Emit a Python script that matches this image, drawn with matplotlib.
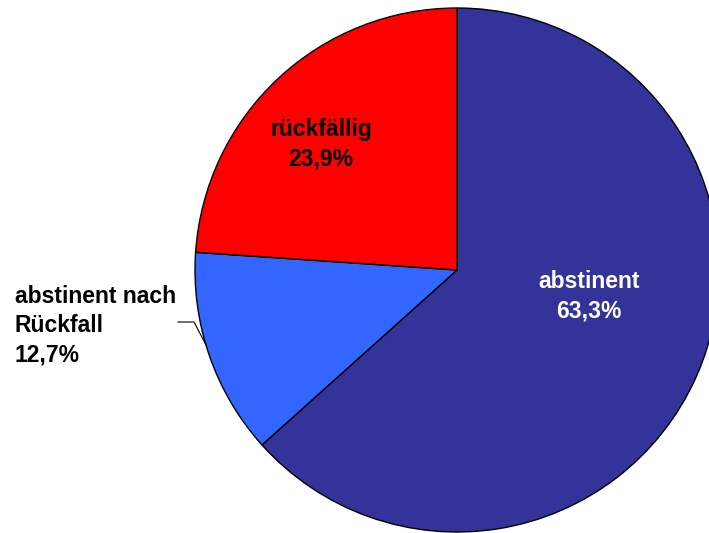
import matplotlib.pyplot as plt

labels = ['abstinent', 'abstinent nach\nRückfall', 'rückfällig']
shares = [63.3, 12.7, 23.9]
colors = ['#333399', '#3366FF', '#FF0000']

plt.rcParams['font.family'] = ['Liberation Sans', 'DejaVu Sans']

fig = plt.figure(figsize=(7.09, 5.33), dpi=100)
ax = fig.add_axes([0, 0, 1, 1])
ax.set_xlim(0, 709)
ax.set_ylim(0, 533)
ax.set_aspect('equal')
ax.axis('off')

cx, cy, r = 457, 533 - 270, 262
wedges, _ = ax.pie(shares, colors=colors, startangle=90, counterclock=False,
                   center=(cx, cy), radius=r,
                   wedgeprops=dict(edgecolor='black', linewidth=1.0))
ax.set_xlim(0, 709)
ax.set_ylim(0, 533)

def pct(v):
    return f'{v:.1f}%'.replace('.', ',')

ax.text(589, 533 - 296, f'{labels[0]}\n{pct(shares[0])}', color='white',
        fontsize=16.5, fontweight='bold', ha='center', va='center', linespacing=1.35)
ax.text(321, 533 - 144, f'{labels[2]}\n{pct(shares[2])}', color='black',
        fontsize=16.5, fontweight='bold', ha='center', va='center', linespacing=1.35)
ax.text(15, 533 - 326, f'{labels[1]}\n{pct(shares[1])}', color='black',
        fontsize=16.5, fontweight='bold', ha='left', va='center', linespacing=1.35)

# leader line to the small slice
ax.plot([178, 194, 206], [533 - 322, 533 - 322, 533 - 345], color='black', lw=0.8)

fig.savefig('out.png', dpi=100)
